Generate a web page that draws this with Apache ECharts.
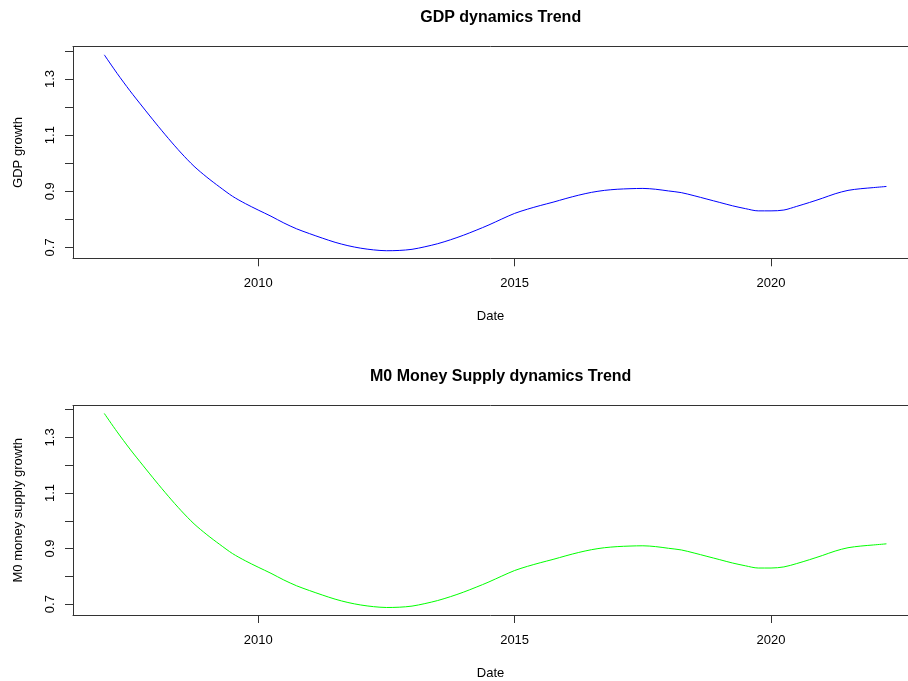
<!DOCTYPE html>
<html>
<head>
<meta charset="utf-8">
<script src="https://cdn.jsdelivr.net/npm/echarts@6/dist/echarts.min.js"></script>
<style>
html,body{margin:0;padding:0;background:#fff;overflow:hidden;}
#chart{width:908px;height:681px;}
</style>
</head>
<body>
<div id="chart"></div>
<script>
// Quarterly dates (decimal years)
const dates = [
  2007.00, 2007.25, 2007.50, 2007.75, 2008.00, 2008.25, 2008.50, 2008.75,
  2009.00, 2009.25, 2009.50, 2009.75, 2010.00, 2010.25, 2010.50, 2010.75,
  2011.00, 2011.25, 2011.50, 2011.75, 2012.00, 2012.25, 2012.50, 2012.75,
  2013.00, 2013.25, 2013.50, 2013.75, 2014.00, 2014.25, 2014.50, 2014.75,
  2015.00, 2015.25, 2015.50, 2015.75, 2016.00, 2016.25, 2016.50, 2016.75,
  2017.00, 2017.25, 2017.50, 2017.75, 2018.00, 2018.25, 2018.50, 2018.75,
  2019.00, 2019.25, 2019.50, 2019.75, 2020.00, 2020.25, 2020.50, 2020.75,
  2021.00, 2021.25, 2021.50, 2021.75, 2022.00, 2022.25
];

// GDP growth trend
const gdpGrowth = [
  1.386, 1.320, 1.258, 1.200, 1.143, 1.088, 1.036, 0.989,
  0.950, 0.915, 0.882, 0.856, 0.833, 0.811, 0.787, 0.766,
  0.749, 0.733, 0.718, 0.706, 0.697, 0.691, 0.688, 0.689,
  0.693, 0.702, 0.713, 0.727, 0.743, 0.761, 0.780, 0.801,
  0.821, 0.836, 0.849, 0.861, 0.874, 0.886, 0.896, 0.903,
  0.907, 0.909, 0.910, 0.907, 0.901, 0.895, 0.884, 0.872,
  0.860, 0.848, 0.838, 0.830, 0.830, 0.833, 0.846, 0.860,
  0.875, 0.891, 0.903, 0.909, 0.913, 0.917
];

// M0 money supply growth trend
const m0Growth = [
  1.386, 1.320, 1.258, 1.200, 1.143, 1.088, 1.036, 0.989,
  0.950, 0.915, 0.882, 0.856, 0.833, 0.811, 0.787, 0.766,
  0.749, 0.733, 0.718, 0.706, 0.697, 0.691, 0.688, 0.689,
  0.693, 0.702, 0.713, 0.727, 0.743, 0.761, 0.780, 0.801,
  0.821, 0.836, 0.849, 0.861, 0.874, 0.886, 0.896, 0.903,
  0.907, 0.909, 0.910, 0.907, 0.901, 0.895, 0.884, 0.872,
  0.860, 0.848, 0.838, 0.830, 0.830, 0.834, 0.846, 0.860,
  0.875, 0.891, 0.903, 0.909, 0.913, 0.917
];

const xTicks = [2010, 2015, 2020];
const yTicks = [0.7, 0.8, 0.9, 1.0, 1.1, 1.2, 1.3, 1.4];
const yLabels = [0.7, 0.9, 1.1, 1.3];

const titles = ['GDP dynamics Trend', 'M0 Money Supply dynamics Trend'];
const yNames = ['GDP growth', 'M0 money supply growth'];

const FONT = 'Liberation Sans, Arial, sans-serif';
const AX = '#333';
const chart = echarts.init(document.getElementById('chart'), null, {renderer: 'canvas'});

const gridTops = [46.7, 405.4];
const gridH = 211.6;
const X_MIN = 2006.39, X_MAX = 2022.67;

function xAxisBottom(i) {
  return {
    type: 'value', gridIndex: i, position: 'bottom', min: X_MIN, max: X_MAX,
    splitLine: {show: false},
    axisLine: {show: true, onZero: false, lineStyle: {color: AX, width: 1}},
    axisTick: {show: true, inside: false, length: 8, customValues: xTicks, lineStyle: {color: AX}},
    axisLabel: {show: true, customValues: xTicks, margin: 19, color: '#000', fontSize: 13, fontFamily: FONT,
      formatter: v => String(Math.round(v))},
    name: 'Date', nameLocation: 'middle', nameGap: 52,
    nameTextStyle: {color: '#000', fontSize: 13, fontFamily: FONT}
  };
}
function xAxisTop(i) {
  return {
    type: 'value', gridIndex: i, position: 'top', min: X_MIN, max: X_MAX,
    splitLine: {show: false},
    axisLine: {show: true, onZero: false, lineStyle: {color: AX, width: 1}},
    axisTick: {show: false}, axisLabel: {show: false}
  };
}
function yAxisCfg(i) {
  return {
    type: 'value', gridIndex: i, min: 0.661, max: 1.415,
    splitLine: {show: false},
    axisLine: {show: true, onZero: false, lineStyle: {color: AX, width: 1}},
    axisTick: {show: true, inside: false, length: 8, customValues: yTicks, lineStyle: {color: AX}},
    axisLabel: {show: true, customValues: yLabels, rotate: 90, margin: 16, color: '#000', fontSize: 13, fontFamily: FONT,
      formatter: v => v.toFixed(1)},
    name: yNames[i], nameLocation: 'middle', nameGap: 48,
    nameTextStyle: {color: '#000', fontSize: 13, fontFamily: FONT}
  };
}

chart.setOption({
  animation: false,
  backgroundColor: '#fff',
  title: titles.map((t, i) => ({
    text: t, left: 495.7, top: gridTops[i] - 42, textAlign: 'center',
    textStyle: {fontSize: 16, fontWeight: 'bold', color: '#000', fontFamily: FONT}
  })),
  grid: gridTops.map(t => ({
    left: 73, right: 0, top: t, height: gridH, show: false
  })),
  xAxis: [xAxisBottom(0), xAxisTop(0), xAxisBottom(1), xAxisTop(1)],
  yAxis: [yAxisCfg(0), yAxisCfg(1)],
  series: [
    {type: 'line', xAxisIndex: 0, yAxisIndex: 0, showSymbol: false, smooth: 0.3,
      lineStyle: {color: '#0000ff', width: 1}, itemStyle: {color: '#0000ff'},
      data: dates.map((d, k) => [d, gdpGrowth[k]])},
    {type: 'line', xAxisIndex: 2, yAxisIndex: 1, showSymbol: false, smooth: 0.3,
      lineStyle: {color: '#00ff00', width: 1}, itemStyle: {color: '#00ff00'},
      data: dates.map((d, k) => [d, m0Growth[k]])}
  ]
});
</script>
</body>
</html>
